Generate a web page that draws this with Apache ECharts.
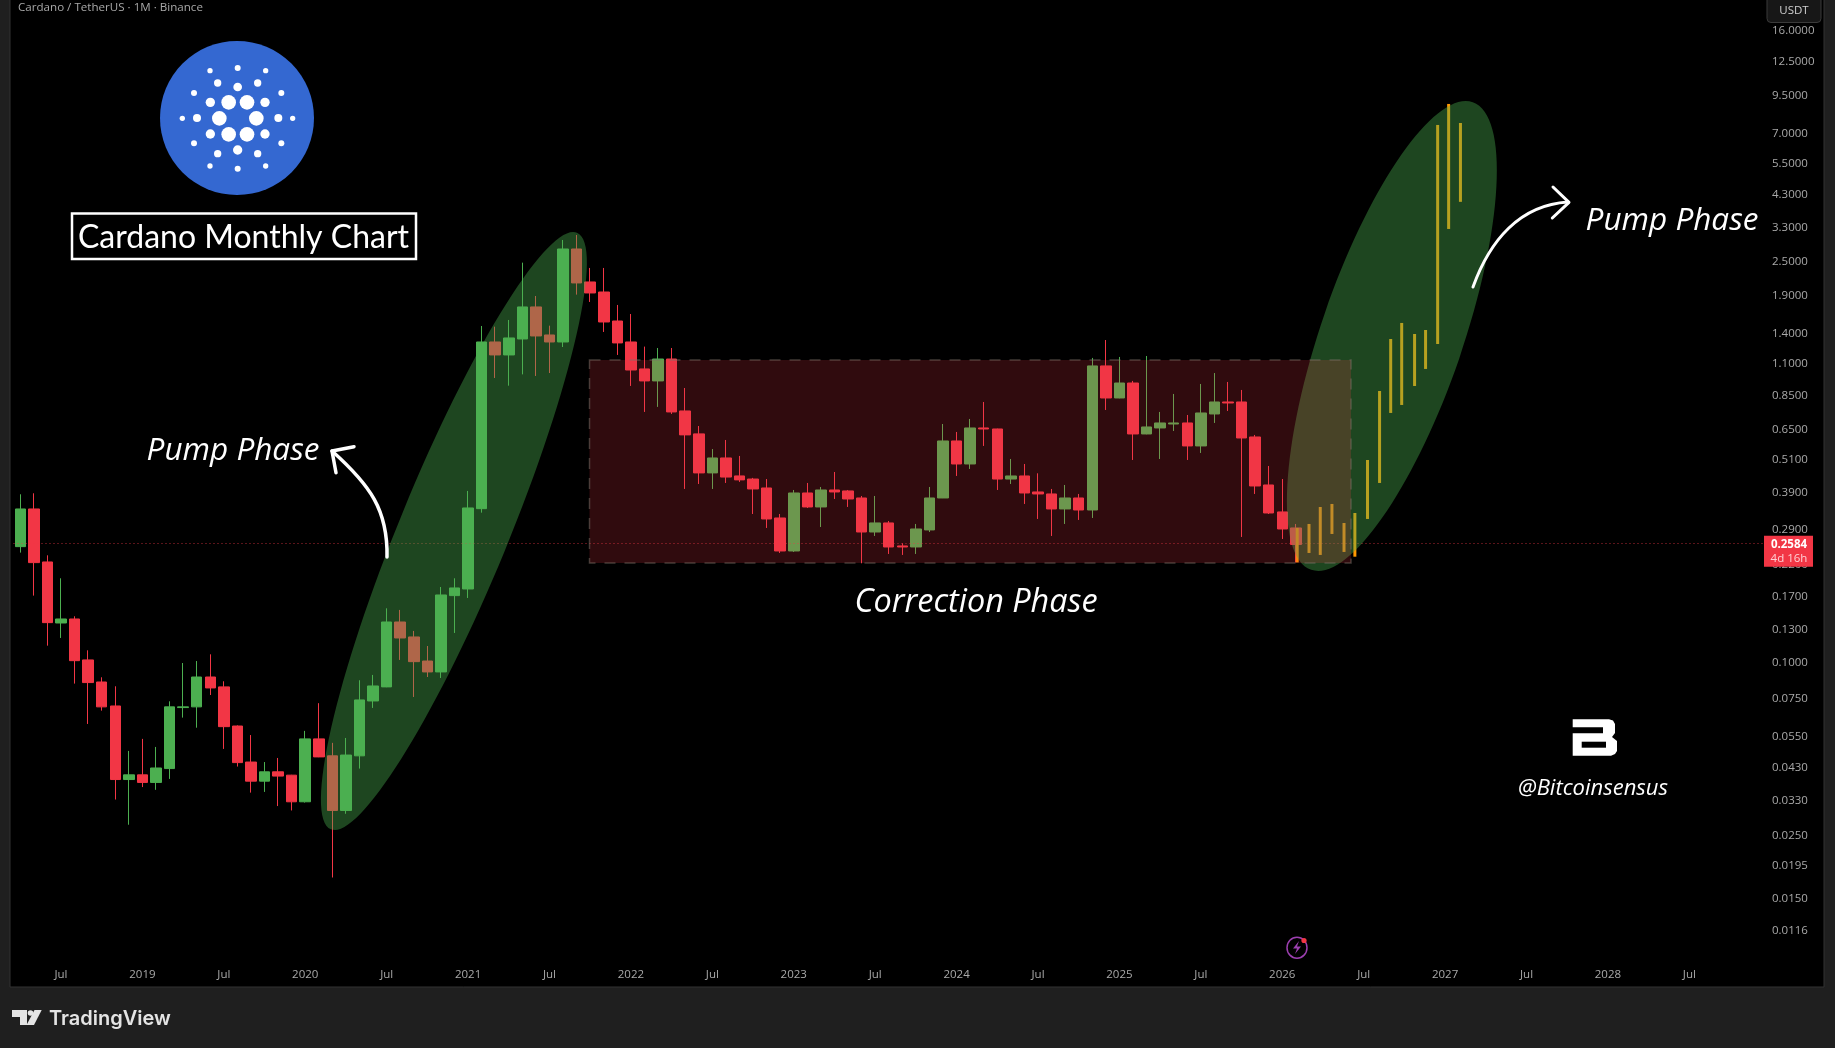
<!DOCTYPE html>
<html><head><meta charset="utf-8">
<style>html,body{margin:0;padding:0;background:#1f1f1f}#c{width:1835px;height:1048px}</style>
<script src="https://cdn.jsdelivr.net/npm/echarts@6/dist/echarts.min.js"></script>
</head><body><div id="c"></div>
<script>
const categories=['Apr 2018','May 2018','Jun 2018','Jul 2018','Aug 2018','Sep 2018','Oct 2018','Nov 2018','Dec 2018',
'Jan 2019','Feb 2019','Mar 2019','Apr 2019','May 2019','Jun 2019','Jul 2019','Aug 2019','Sep 2019','Oct 2019','Nov 2019','Dec 2019',
'Jan 2020','Feb 2020','Mar 2020','Apr 2020','May 2020','Jun 2020','Jul 2020','Aug 2020','Sep 2020','Oct 2020','Nov 2020','Dec 2020',
'Jan 2021','Feb 2021','Mar 2021','Apr 2021','May 2021','Jun 2021','Jul 2021','Aug 2021','Sep 2021','Oct 2021','Nov 2021','Dec 2021',
'Jan 2022','Feb 2022','Mar 2022','Apr 2022','May 2022','Jun 2022','Jul 2022','Aug 2022','Sep 2022','Oct 2022','Nov 2022','Dec 2022',
'Jan 2023','Feb 2023','Mar 2023','Apr 2023','May 2023','Jun 2023','Jul 2023','Aug 2023','Sep 2023','Oct 2023','Nov 2023','Dec 2023',
'Jan 2024','Feb 2024','Mar 2024','Apr 2024','May 2024','Jun 2024','Jul 2024','Aug 2024','Sep 2024','Oct 2024','Nov 2024','Dec 2024',
'Jan 2025','Feb 2025','Mar 2025','Apr 2025','May 2025','Jun 2025','Jul 2025','Aug 2025','Sep 2025','Oct 2025','Nov 2025','Dec 2025',
'Jan 2026','Feb 2026','Mar 2026','Apr 2026','May 2026','Jun 2026','Jul 2026','Aug 2026','Sep 2026','Oct 2026','Nov 2026','Dec 2026',
'Jan 2027','Feb 2027','Mar 2027','Apr 2027','May 2027','Jun 2027','Jul 2027','Aug 2027','Sep 2027','Oct 2027','Nov 2027','Dec 2027',
'Jan 2028','Feb 2028','Mar 2028','Apr 2028','May 2028','Jun 2028','Jul 2028','Aug 2028','Sep 2028','Oct 2028','Nov 2028','Dec 2028'];

const opens=[.2539,.3436,.2245,.1375,.1420,.1022,.0856,.0706,.0391,.0406,.0382,.0427,.0697,.0701,.0891,.0823,.0601,.0450,.0386,.0416,.0405,.0327,.0542,.0473,.0305,.0473,.0735,.0823,.1386,.1229,.1013,.0928,.1713,.1807,.3445,1.314,1.184,1.346,1.741,1.390,1.314,2.773,2.128,1.963,1.555,1.314,1.058,.961,1.146,.755,.628,.459,.5176,.448,.437,.4067,.3196,.2452,.3907,.3492,.4002,.3971,.3753,.2856,.3071,.2553,.2532,.2903,.3753,.5933,.4932,.6586,.6533,.437,.4479,.3939,.3876,.3436,.3753,.3408,1.084,.838,.945,.6276,.6586,.680,.6856,.570,.7369,.8115,.8115,.6126,.4166,.3355,.295];
const closes=[.3436,.2233,.1379,.1420,.1016,.0852,.0701,.0391,.0406,.0382,.0429,.0701,.0701,.0891,.0816,.0598,.0448,.0386,.0416,.0402,.0327,.0542,.0469,.0305,.0476,.0741,.0829,.1386,.1219,.1008,.0928,.1722,.1822,.3464,1.314,1.184,1.357,1.741,1.379,1.314,2.773,2.111,1.948,1.543,1.304,1.049,.961,1.146,.749,.623,.459,.5176,.444,.434,.4035,.3171,.2452,.3907,.3492,.4002,.3939,.3723,.2856,.3071,.2532,.2532,.2926,.3753,.5933,.4932,.6586,.6533,.437,.4479,.3907,.3876,.3436,.3753,.3408,1.084,.838,.945,.6276,.6639,.6856,.6856,.570,.7429,.8115,.805,.6077,.4133,.3327,.2926,.2584];
const lows=[.2420,.1713,.1146,.1219,.0845,.0611,.0680,.0333,.0272,.0368,.0360,.0393,.0643,.0593,.0771,.0500,.0434,.0352,.0354,.0316,.0305,.0325,.0468,.0178,.0297,.0427,.0695,.0821,.1022,.0759,.0891,.0884,.1269,.1681,.3336,.984,.925,1.013,1.000,1.024,1.262,1.922,1.812,1.424,1.184,.923,.749,.780,.737,.4035,.420,.4035,.4234,.427,.330,.295,.2413,.2433,.3464,.2973,.3723,.3492,.2221,.2766,.2394,.2375,.2394,.2856,.3750,.4479,.4738,.570,.4002,.420,.3577,.3171,.2766,.3046,.3146,.3196,.761,.836,.5093,.6260,.5134,.6429,.5093,.5388,.6856,.755,.2744,.3876,.330,.270,.2238];
const highs=[.3866,.3897,.2368,.1969,.1451,.1104,.0889,.0827,.0492,.0542,.0508,.0733,.0997,.1013,.1069,.0861,.0604,.0559,.0450,.0465,.0406,.0578,.0722,.0525,.0546,.0868,.0906,.1547,.1527,.1290,.1143,.1836,.1969,.3971,1.494,1.486,1.568,2.485,1.901,1.498,2.981,3.103,2.381,2.381,1.769,1.645,1.266,1.252,1.252,.908,.669,.556,.598,.526,.441,.437,.330,.4002,.4234,.410,.4625,.4002,.3814,.3814,.312,.2608,.3046,.410,.680,.6378,.708,.8115,.6550,.5134,.4932,.4576,.4035,.4166,.3876,1.156,1.335,1.165,.961,1.174,.749,.8654,.731,.9377,1.024,.953,.8937,.6226,.4853,.437,.3046];

// projected bars pasted over the last months (month position on the axis, low, high)
const projectionMonths=[94.1,94.97,95.8,96.66,97.55,98.35,99.28,100.17,100.99,101.8,102.75,103.56,104.45,105.26,106.13];
const projectionLows=[.2236,.2413,.2375,.2811,.2433,.2342,.3171,.4234,.743,.7922,.9228,1.058,1.293,3.257,4.05];
const projectionHighs=[.295,.3046,.349,.3577,.307,.3327,.5093,.8865,1.346,1.531,1.401,1.447,7.51,8.89,7.63];

const priceTicks=[16,12.5,9.5,7,5.5,4.3,3.3,2.5,1.9,1.4,1.1,.85,.65,.51,.39,.29,.22,.17,.13,.10,.075,.055,.043,.033,.025,.0195,.015,.0116];
const lastPrice=0.2584;

const logoDots=[[713,204,9],[630,212,8],[797,212,8],[844,279,9],[582,279,9],[547,355,8],[878,355,8],[582,430,9],[844,430,9],[630,498,8],[797,498,8],[713,506,9],
[653,249,11],[773,249,11],[713,261,13],[631,307,14],[795,307,14],[591,354,12],[835,354,12],[631,402,14],[795,402,14],[653,461,11],[773,461,11],[713,450,14],
[686,307,22],[741,307,22],[658,355,22],[769,355,22],[686,403,22],[741,403,22]];

const UP='#4caf50',DOWN='#f23645',AXIS='#a9a9a9';
const AXFONT='"Open Sans",sans-serif';
function text(x,y,t,font,fill,align,z){return {type:'text',z:z||110,silent:true,x:x,y:y,style:{text:t,font:font,fill:fill,align:align||'center',verticalAlign:'middle'}};}
function line(points,w,z){return {type:'polyline',z:z||70,silent:true,shape:{points:points},style:{fill:'none',stroke:'#fff',lineWidth:w,lineCap:'round',lineJoin:'round'}};}
function poly(points,fill,z){return {type:'polygon',z:z||70,silent:true,shape:{points:points},style:{fill:fill}};}
function curve(x1,y1,cx1,cy1,cx2,cy2,x2,y2,w){return {type:'bezierCurve',z:70,silent:true,shape:{x1:x1,y1:y1,cpx1:cx1,cpy1:cy1,cpx2:cx2,cpy2:cy2,x2:x2,y2:y2},style:{fill:'none',stroke:'#fff',lineWidth:w,lineCap:'round'}};}

const chart=echarts.init(document.getElementById('c'),null,{renderer:'canvas'});
const graphics=[
 {type:'rect',z:-10,silent:true,shape:{x:10,y:-2,width:1814,height:989},style:{fill:'#000',stroke:'#333',lineWidth:1}},
 // annotations over the candles
 {type:'ellipse',z:50,silent:true,x:454,y:531,rotation:-22.4*Math.PI/180,shape:{cx:0,cy:0,rx:54.5,ry:322.7},style:{fill:'rgba(76,175,80,0.4)'}},
 {type:'ellipse',z:50,silent:true,x:1392,y:336,rotation:-19.06*Math.PI/180,shape:{cx:0,cy:0,rx:70.9,ry:247.4},style:{fill:'rgba(76,175,80,0.4)'}},
 {type:'rect',z:51,silent:true,shape:{x:589.5,y:360,width:761.5,height:203},style:{fill:'rgba(242,54,69,0.2)',stroke:'rgba(125,115,105,0.5)',lineWidth:1.5,lineDash:[11,9]}},
 // logo
 {type:'circle',z:60,silent:true,shape:{cx:237,cy:118,r:77},style:{fill:'#3468d1'}},
 ...logoDots.map(d=>({type:'circle',z:61,silent:true,shape:{cx:d[0]/3,cy:d[1]/3,r:d[2]/3},style:{fill:'#fff'}})),
 // title box
 {type:'rect',z:60,silent:true,shape:{x:72,y:213.5,width:344,height:45.5},style:{fill:'#000',stroke:'#fff',lineWidth:2.5}},
 text(243.5,238,'Cardano Monthly Chart','32px Lato, sans-serif','#fff'),
 text(18,8,'Cardano / TetherUS · 1M · Binance','11.6px '+AXFONT,'#a8a8a8','left'),
 // annotation texts
 text(233,451,'Pump Phase','italic 31.5px "Open Sans",sans-serif','#fff'),
 text(1672,221,'Pump Phase','italic 31.5px "Open Sans",sans-serif','#fff'),
 text(976,603,'Correction Phase','italic 32.4px "Open Sans",sans-serif','#fff'),
 text(1593,789,'@Bitcoinsensus','italic 22px "Open Sans",sans-serif','#fff'),
 // arrows
 curve(387,557,388,510,370,485,332,451,3.5),
 line([[354,446.7],[332,451],[336,472.7]],3.5),
 curve(1473,287,1490,240,1520,205,1568,202,3),
 line([[1553,187],[1569,202.3],[1552.3,218]],3),
 // B logo
 poly([[1572.7,719.3],[1609,719.3],[1613,720.5],[1615,724],[1615,733],[1612,737],[1617,741],[1617,751],[1615,754],[1611,755.7],[1572.7,755.7],[1572.7,733.3],[1603,733.3],[1603,727.3],[1572.7,727.3]],'#fff'),
 poly([[1581.7,741.7],[1581.7,747.7],[1606,747.7],[1606,741.7]],'#000',71),
 // price box
 {type:'rect',z:80,silent:true,shape:{x:1764,y:535.7,width:49,height:31},style:{fill:'#f23645'}},
 text(1789,545,'0.2584','bold 11.5px '+AXFONT,'#fff','center',81),
 text(1789,559,'4d 16h','11.5px '+AXFONT,'#ffd0d4','center',81),
 // USDT box
 {type:'rect',z:80,silent:true,shape:{x:1767,y:-5,width:54,height:27.5,r:4},style:{fill:'#171717',stroke:'#3a3a3a',lineWidth:1}},
 text(1794,11,'USDT','11.5px '+AXFONT,'#d0d0d0','center',81),
 // lightning icon
 {type:'ellipse',z:60,silent:true,shape:{cx:1297,cy:947.7,rx:10,ry:10.5},style:{fill:'none',stroke:'#9c3fb0',lineWidth:1.5}},
 poly([[1299,941],[1293,948.5],[1297,948.5],[1295,954],[1301,946.5],[1297,946.5]],'#9c3fb0',61),
 {type:'circle',z:62,silent:true,shape:{cx:1304,cy:940.5,r:2.6},style:{fill:'#f23645'}},
 // footer
 poly([[12,1010],[27,1010],[27,1025],[20,1025],[20,1017],[12,1017]],'#e4e4e4',60),
 poly([[34.5,1010],[41.7,1010],[34,1025],[26.5,1025]],'#e4e4e4',60),
 {type:'circle',z:60,silent:true,shape:{cx:30.5,cy:1013,r:2.8},style:{fill:'#e4e4e4'}},
 text(49,1018.5,'TradingView','600 20px Inter, sans-serif','#e4e4e4','left')
];

chart.setOption({
 animation:false,
 backgroundColor:'#1f1f1f',
 grid:{left:13.5,top:0,width:1750.5,height:962},
 xAxis:[
  {type:'category',data:categories,boundaryGap:true,axisLine:{show:false},axisTick:{show:false},splitLine:{show:false},
   axisLabel:{color:AXIS,fontFamily:'"Open Sans",sans-serif',fontSize:11.5,margin:7,hideOverlap:false,
    interval:(i,v)=>/^(Jan|Jul)/.test(v),
    formatter:v=>v.startsWith('Jan')?v.slice(4):'Jul'}},
  {type:'value',show:false,min:-0.5,max:128.5,axisLine:{show:false},axisTick:{show:false},splitLine:{show:false},axisLabel:{show:false}}
 ],
 yAxis:{type:'log',position:'right',min:0.00903,max:20.49,axisLine:{show:false},axisTick:{show:false},splitLine:{show:false},minorTick:{show:false},minorSplitLine:{show:false},
  axisLabel:{color:AXIS,fontFamily:AXFONT,fontSize:11.5,margin:8,align:'left',customValues:priceTicks,formatter:v=>Number(v).toFixed(4)}},
 series:[
  {type:'candlestick',name:'ADA/USDT',barWidth:11,z:2,
   itemStyle:{color:UP,color0:DOWN,borderColor:UP,borderColor0:DOWN,borderWidth:1},
   data:opens.map((o,i)=>[o,closes[i],lows[i],highs[i]]),
   markLine:{silent:true,symbol:'none',label:{show:false},z:3,lineStyle:{color:'#f23645',type:[1,3],width:1,opacity:.75},data:[{yAxis:lastPrice}]}},
  {type:'custom',name:'Projection',xAxisIndex:1,z:3,silent:true,
   encode:{x:0,y:[1,2]},
   data:projectionMonths.map((m,i)=>[m,projectionLows[i],projectionHighs[i]]),
   renderItem:(p,api)=>{const a=api.coord([api.value(0),api.value(2)]),b=api.coord([api.value(0),api.value(1)]);
     return {type:'rect',shape:{x:a[0]-1.5,y:a[1],width:3,height:b[1]-a[1]},style:{fill:'#ff9800'}};}}
 ],
 graphic:graphics
});
</script></body></html>
